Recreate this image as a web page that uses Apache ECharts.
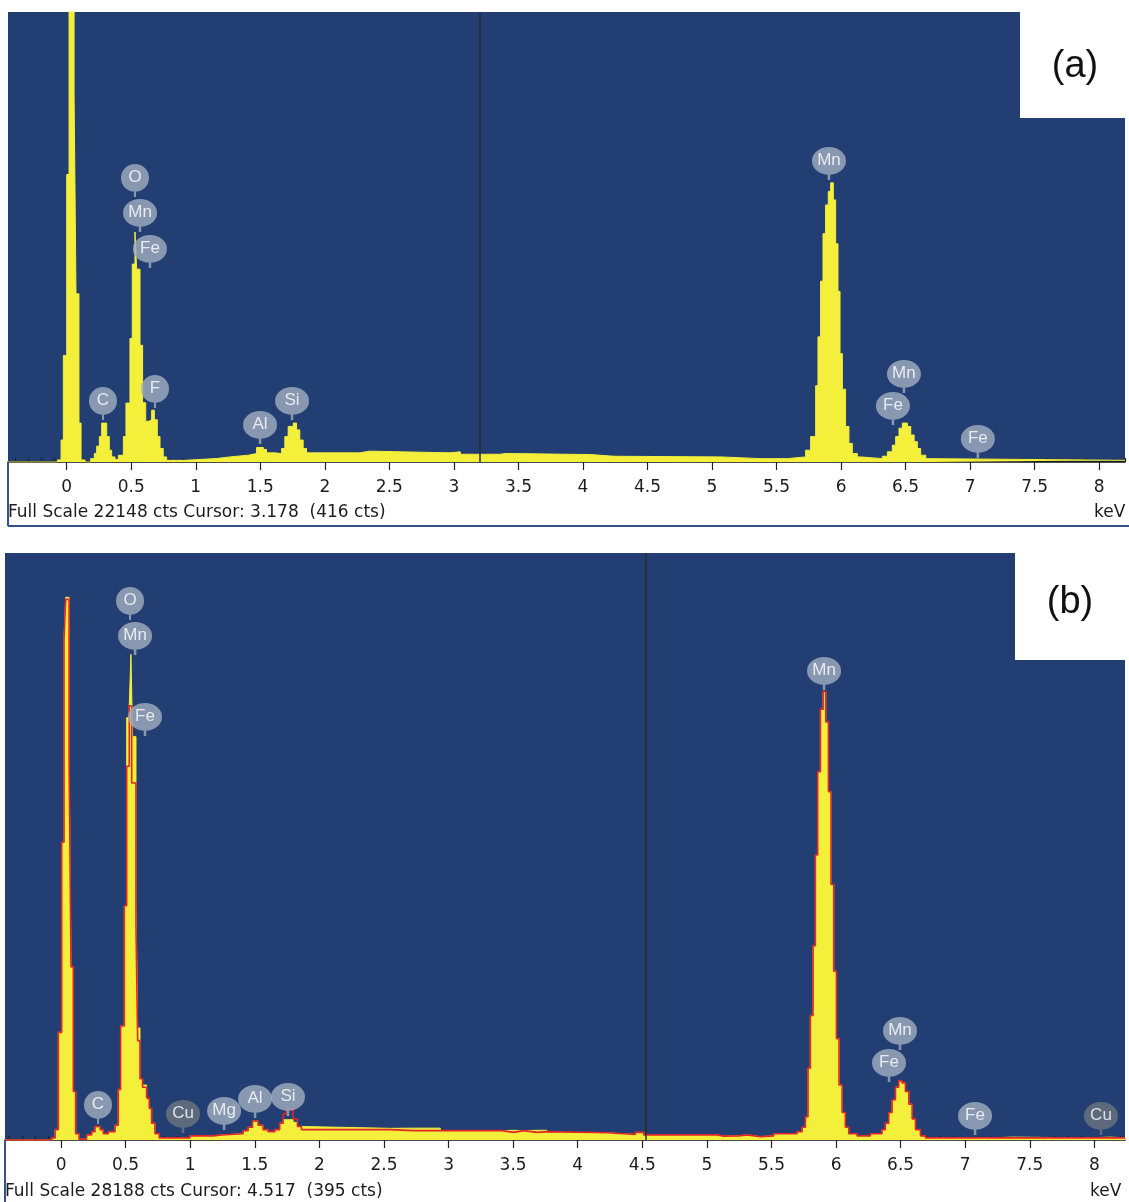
<!DOCTYPE html>
<html>
<head>
<meta charset="utf-8">
<script src="https://cdn.jsdelivr.net/npm/echarts@6/dist/echarts.min.js"></script>
<style>
html,body{margin:0;padding:0;background:#fff;}
#chart{width:1129px;height:1202px;}
</style>
</head>
<body>
<div id="chart"></div>
<script>
// ---------- DATA ----------
// Axis ticks (keV)
var majorTicks = [0,0.5,1,1.5,2,2.5,3,3.5,4,4.5,5,5.5,6,6.5,7,7.5,8];
var tickLabels = ['0','0.5','1','1.5','2','2.5','3','3.5','4','4.5','5','5.5','6','6.5','7','7.5','8'];

// Spectrum (a): channel start energy (keV) and counts
var energyA = [-0.455,-0.072,-0.044,-0.026,0.000,0.018,0.057,0.072,0.095,0.111,0.142,0.186,0.214,0.232,0.253,0.271,0.289,0.310,0.330,0.348,0.374,0.400,
  0.439,0.459,0.490,0.508,0.529,0.542,0.568,0.588,0.612,0.637,0.658,0.679,0.702,0.723,0.748,0.774,0.916,1.161,1.265,1.406,1.471,1.523,1.548,1.613,
  1.665,1.690,1.716,1.755,1.781,1.806,1.832,1.858,2.271,2.348,2.970,3.050,3.360,3.400,4.060,4.240,5.070,5.376,5.583,5.725,5.764,5.803,5.821,5.841,
  5.860,5.880,5.901,5.919,5.940,5.958,5.976,5.992,6.010,6.035,6.061,6.087,6.126,6.152,6.320,6.359,6.397,6.423,6.449,6.475,6.514,6.540,6.566,6.591,
  6.617,6.656,6.695,8.200];
var countsA = [0,100,1080,5245,14150,40000,18100,8275,1915,100,0,170,420,780,1250,1915,1915,1250,580,250,120,330,
  1250,2900,6080,9740,11320,9490,5745,2915,2000,2080,2550,2080,1250,665,250,80,170,250,333,416,715,615,450,416,
  665,1250,1750,1915,1580,1080,665,450,533,450,500,380,420,366,283,250,166,166,250,580,1250,3750,6160,8900,
  11240,12650,13320,13740,12900,10740,8400,5330,3580,1750,915,416,250,166,283,500,830,1250,1665,1915,1750,1330,1000,665,
  333,166,83,83];

// Spectrum (b), yellow filled
var energyB = [-0.434,-0.072,-0.046,-0.021,0.005,0.023,0.036,0.062,0.077,0.095,0.113,0.139,0.198,0.237,0.263,0.302,0.327,0.366,0.418,0.443,0.461,
  0.490,0.508,0.528,0.541,0.554,0.580,0.593,0.611,0.631,0.662,0.683,0.701,0.727,0.760,0.997,1.178,1.242,1.410,1.448,1.482,1.526,1.564,1.603,1.655,
  1.693,1.719,1.745,1.796,1.830,1.861,2.548,2.729,2.936,3.413,3.504,3.581,3.685,3.762,4.227,4.446,4.511,5.079,5.130,5.247,5.311,5.414,5.517,5.698,
  5.737,5.763,5.783,5.801,5.822,5.840,5.858,5.879,5.900,5.920,5.941,5.961,5.982,6.003,6.023,6.047,6.072,6.098,6.163,6.266,6.356,6.382,6.408,6.434,
  6.460,6.485,6.511,6.537,6.563,6.589,6.615,6.653,6.692,7.170,7.376,7.944,8.125,8.237];
var countsB = [0,100,500,5170,14300,24030,26060,18350,8315,2330,300,40,240,400,650,500,300,400,710,2430,5475,
  11250,20280,20850,23320,19370,11450,5380,2940,2640,1930,1520,810,300,100,200,240,300,450,610,910,710,500,400,500,
  810,975,975,850,650,560,570,570,450,466,450,466,466,345,265,365,245,185,200,245,160,200,300,400,
  610,1115,3450,5980,9330,13690,17680,20690,21540,20080,16730,12270,8110,4870,2640,1320,610,300,200,300,500,810,1320,1930,
  2535,2840,2740,2330,1725,1015,500,200,100,140,100,140,100,100];

// Spectrum (b), red outline
var energyR = [-0.434,-0.072,-0.046,-0.021,0.005,0.023,0.036,0.062,0.077,0.095,0.113,0.139,0.198,0.237,0.263,0.302,0.327,0.366,0.418,0.443,0.461,
  0.490,0.508,0.528,0.547,0.580,0.593,0.611,0.631,0.662,0.683,0.701,0.727,0.760,0.997,1.178,1.242,1.410,1.448,1.482,1.526,1.564,1.603,1.655,
  1.693,1.719,1.745,1.796,1.830,1.861,2.548,2.729,2.936,3.413,3.504,3.581,3.685,3.762,4.227,4.446,4.511,5.079,5.130,5.247,5.311,5.414,5.517,5.698,
  5.737,5.763,5.783,5.801,5.822,5.840,5.858,5.879,5.900,5.920,5.941,5.961,5.982,6.003,6.023,6.047,6.072,6.098,6.163,6.266,6.356,6.382,6.408,6.434,
  6.460,6.485,6.511,6.537,6.563,6.589,6.615,6.653,6.692,7.170,7.376,7.944,8.125,8.237];
var countsR = [0,100,500,5170,14300,24030,25960,18250,8315,2330,300,40,240,400,650,500,300,400,710,2430,5475,
  11250,17950,20850,17140,10240,4770,2940,2535,2030,1520,810,300,100,200,240,300,450,610,910,710,500,400,500,
  810,1260,1460,1010,650,500,450,450,450,365,450,365,400,345,265,365,245,185,200,245,160,200,300,400,
  610,1115,3450,5980,9330,13690,17680,20690,21540,20080,16730,12270,8110,4870,2640,1320,610,300,200,300,500,810,1320,1930,
  2535,2840,2740,2330,1725,1015,500,200,100,100,100,100,100,100];

// Element markers: label, energy (keV), counts at marker stem tip, dark flag
var markLabelsA = ['O','Mn','Fe','C','F','Al','Si','Mn','Fe','Mn','Fe'];
var markEnergyA = [0.529,0.568,0.645,0.281,0.684,1.498,1.746,5.906,6.402,6.487,7.060];
var markCountsA = [13043,11320,9548,2067,2658,886,2067,13880,1821,3396,197];
var markDarkA   = [0,0,0,0,0,0,0,0,0,0,0];

var markLabelsB = ['O','Mn','Fe','C','Cu','Mg','Al','Si','Mn','Fe','Mn','Fe','Cu'];
var markEnergyB = [0.534,0.573,0.650,0.286,0.944,1.262,1.502,1.757,5.907,6.410,6.495,7.076,8.051];
var markCountsB = [24970,23290,19400,768,336,480,1056,1152,21610,2785,4322,240,240];
var markDarkB   = [0,0,0,0,1,0,0,0,0,0,0,0,1];

var fullScaleA = 22148, fullScaleB = 28188;
var cursorA = 3.2, cursorB = 4.53;
var infoA = 'Full Scale 22148 cts Cursor: 3.178  (416 cts)';
var infoB = 'Full Scale 28188 cts Cursor: 4.517  (395 cts)';

// ---------- BUILD ----------
var BLUE = '#233e72', YELLOW = '#f3ef3b', RED = '#e3262a';
var BADGE = '#a2afc1', BADGE_DARK = '#6b7480';
var FONT = '"Liberation Sans", Arial, sans-serif';
var AXFONT = '"DejaVu Sans", Verdana, sans-serif';

function pairs(xs, ys){ return xs.map(function(x,i){ return [x, ys[i]]; }); }
var minorTicks = [];
for (var t = -4; t <= 82; t++) { if (t % 5 !== 0) minorTicks.push(t/10); }

var badgePath = 'path://M0,13.5 A13.5,13.5 0 1 1 27,13.5 A13.5,13.5 0 1 1 0,13.5 Z M12.5,26 L14.5,26 L14.5,32 L12.5,32 Z';
function badges(labels, es, cs, dark){
  return labels.map(function(l,i){
    return {
      name: l, value: [es[i], cs[i]],
      symbolSize: [l.length > 1 ? 34 : 28, 33],
      itemStyle: { color: dark[i] ? BADGE_DARK : BADGE }
    };
  });
}

function axes(grid, min, max){
  return [{
    type:'value', gridIndex:grid, min:min, max:max,
    axisLine:{show:true, onZero:false, lineStyle:{color:'#111', width:1.5}},
    axisTick:{show:true, customValues:majorTicks, length:8, lineStyle:{color:'#222', width:1.2}},
    axisLabel:{show:true, customValues:majorTicks, margin:17, fontSize:17, color:'#1c1c1c', fontFamily:AXFONT,
      formatter:function(v){ var k = majorTicks.indexOf(v); return k >= 0 ? tickLabels[k] : String(v); }},
    splitLine:{show:false}
  },{
    type:'value', gridIndex:grid, min:min, max:max,
    axisLine:{show:false},
    axisTick:{show:true, customValues:minorTicks, length:4, lineStyle:{color:'#222', width:1.2}},
    axisLabel:{show:false},
    splitLine:{show:false}
  }];
}

var chart = echarts.init(document.getElementById('chart'), null, {renderer:'canvas'});
var option = {
  animation:false,
  backgroundColor:'#ffffff',
  grid:[
    {left:8, top:12, width:1117, height:450, show:true, backgroundColor:BLUE, borderWidth:0},
    {left:5, top:553, width:1120, height:587, show:true, backgroundColor:BLUE, borderWidth:0}
  ],
  xAxis: axes(0, -0.455, 8.2).concat(axes(1, -0.434, 8.237)),
  yAxis:[
    {type:'value', gridIndex:0, min:0, max:fullScaleA, show:false},
    {type:'value', gridIndex:1, min:0, max:fullScaleB, show:false}
  ],
  series:[
    {
      type:'line', xAxisIndex:0, yAxisIndex:0, step:'end', symbol:'none', clip:true,
      data:pairs(energyA, countsA),
      lineStyle:{color:YELLOW, width:1}, areaStyle:{color:YELLOW, opacity:1}, z:2,
      markLine:{silent:true, symbol:'none', label:{show:false},
        lineStyle:{color:'#2b2b2b', width:1.5, type:'solid'}, data:[{xAxis:cursorA}]}
    },
    {
      type:'line', xAxisIndex:2, yAxisIndex:1, step:'end', symbol:'none', clip:true,
      data:pairs(energyB, countsB),
      lineStyle:{color:YELLOW, width:1}, areaStyle:{color:YELLOW, opacity:1}, z:2,
      markLine:{silent:true, symbol:'none', label:{show:false},
        lineStyle:{color:'#2b2b2b', width:1.5, type:'solid'}, data:[{xAxis:cursorB}]}
    },
    {
      type:'line', xAxisIndex:2, yAxisIndex:1, step:'end', symbol:'none', clip:true,
      data:pairs(energyR, countsR),
      lineStyle:{color:RED, width:1.6}, z:3
    },
    {
      type:'scatter', xAxisIndex:0, yAxisIndex:0, symbol:badgePath, symbolOffset:[0,-16.5], z:5,
      data:badges(markLabelsA, markEnergyA, markCountsA, markDarkA),
      label:{show:true, position:'inside', offset:[0,-3], formatter:'{b}', color:'#ffffff', fontSize:17, fontFamily:FONT}
    },
    {
      type:'scatter', xAxisIndex:2, yAxisIndex:1, symbol:badgePath, symbolOffset:[0,-16.5], z:5,
      data:badges(markLabelsB, markEnergyB, markCountsB, markDarkB),
      label:{show:true, position:'inside', offset:[0,-3], formatter:'{b}', color:'#ffffff', fontSize:17, fontFamily:FONT}
    }
  ],
  graphic:[
    // panel (a) frame + texts
    {type:'rect', shape:{x:1020, y:12, width:105, height:106}, style:{fill:'#ffffff'}, z:10},
    {type:'text', x:1075, y:67, style:{text:'(a)', fontSize:38, fontFamily:FONT, fill:'#111', align:'center', verticalAlign:'middle'}, z:11},
    {type:'line', shape:{x1:8, y1:462, x2:8, y2:526}, style:{stroke:'#35528c', lineWidth:2}, z:10},
    {type:'line', shape:{x1:8, y1:526, x2:1129, y2:526}, style:{stroke:'#35528c', lineWidth:2}, z:10},
    {type:'text', x:8, y:513, style:{text:infoA, fontSize:17, fontFamily:AXFONT, fill:'#1c1c1c', align:'left', verticalAlign:'middle'}, z:11},
    {type:'text', x:1094, y:513, style:{text:'keV', fontSize:17, fontFamily:AXFONT, fill:'#1c1c1c', align:'left', verticalAlign:'middle'}, z:11},
    // panel (b)
    {type:'rect', shape:{x:1015, y:553, width:110, height:107}, style:{fill:'#ffffff'}, z:10},
    {type:'text', x:1070, y:603, style:{text:'(b)', fontSize:38, fontFamily:FONT, fill:'#111', align:'center', verticalAlign:'middle'}, z:11},
    {type:'line', shape:{x1:5, y1:1140, x2:5, y2:1202}, style:{stroke:'#35528c', lineWidth:2}, z:10},
    {type:'text', x:5, y:1192, style:{text:infoB, fontSize:17, fontFamily:AXFONT, fill:'#1c1c1c', align:'left', verticalAlign:'middle'}, z:11},
    {type:'text', x:1090, y:1192, style:{text:'keV', fontSize:17, fontFamily:AXFONT, fill:'#1c1c1c', align:'left', verticalAlign:'middle'}, z:11}
  ]
};
chart.setOption(option);
</script>
</body>
</html>
